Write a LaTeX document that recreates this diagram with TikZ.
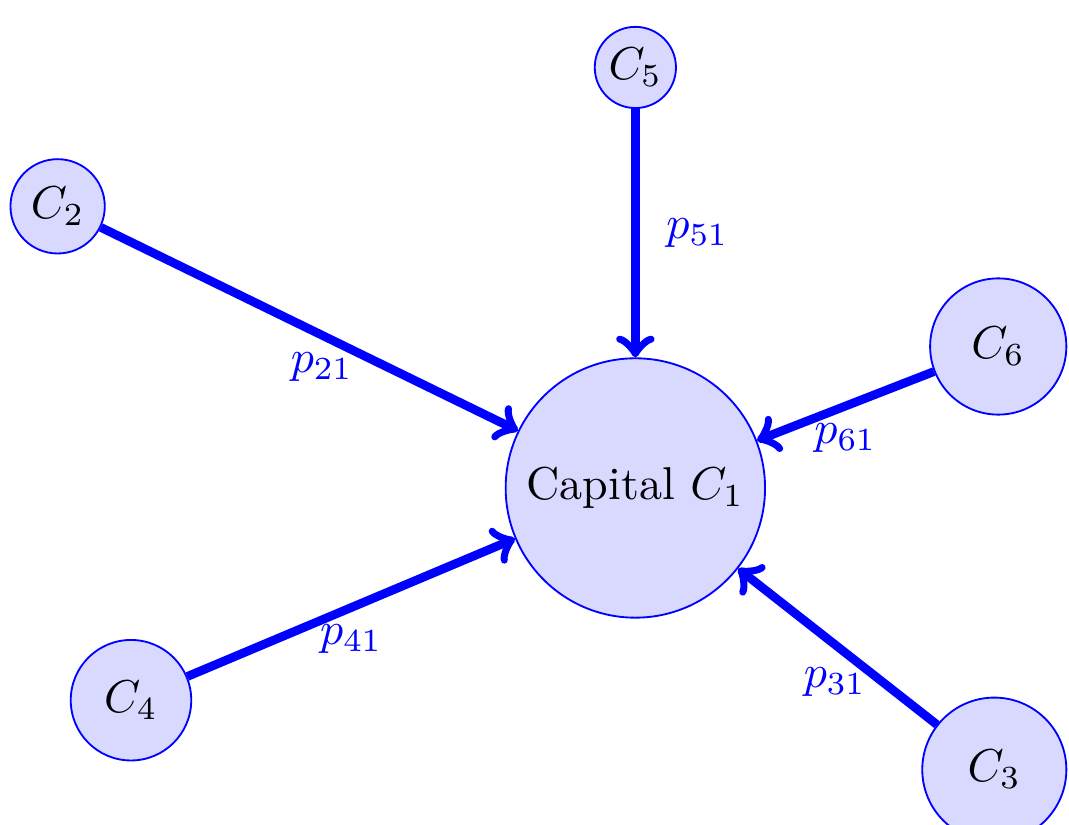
\documentclass[tikz,border=0pt]{standalone}
\usepackage{tikz}
\usetikzlibrary{positioning}
\usepackage{amsmath}
\tikzset{
  city/.style = {circle, draw=blue, fill=blue!15, inner sep=1pt},
  arr/.style  = {->, line width=1.9pt, color=blue},
  lbl/.style  = {text=blue, inner sep=2.8pt},
}

\begin{document}
\begin{tikzpicture}[on grid]

  \useasboundingbox (-4.85,-2.57) rectangle (3.31,3.725);

  \node[city, minimum size=1.98cm] (cap) at (0,0) {Capital $C_1$};

  % surrounding cities
  \node[city, minimum size=0.62cm, above=3.21cm of cap]                  (c5) {$C_5$};
  \node[city, minimum size=0.72cm, above left=2.15cm and 4.41cm of cap]  (c2) {$C_2$};
  \node[city, minimum size=1.04cm, above right=1.08cm and 2.77cm of cap] (c6) {$C_6$};
  \node[city, minimum size=0.92cm, below left=1.62cm and 3.85cm of cap]  (c4) {$C_4$};
  \node[city, minimum size=1.10cm, below right=2.15cm and 2.74cm of cap] (c3) {$C_3$};

  % flows into the capital
  \draw[arr] (c5) -- node[lbl, pos=0.5,  right=3pt] {$p_{51}$} (cap);
  \draw[arr] (c2) -- node[lbl, pos=0.53, below] {$p_{21}$} (cap);
  \draw[arr] (c6) -- node[lbl, pos=0.5,  below] {$p_{61}$} (cap);
  \draw[arr] (c4) -- node[lbl, pos=0.5,  below] {$p_{41}$} (cap);
  \draw[arr] (c3) -- node[lbl, pos=0.27, left]  {$p_{31}$} (cap);

\end{tikzpicture}
\end{document}
